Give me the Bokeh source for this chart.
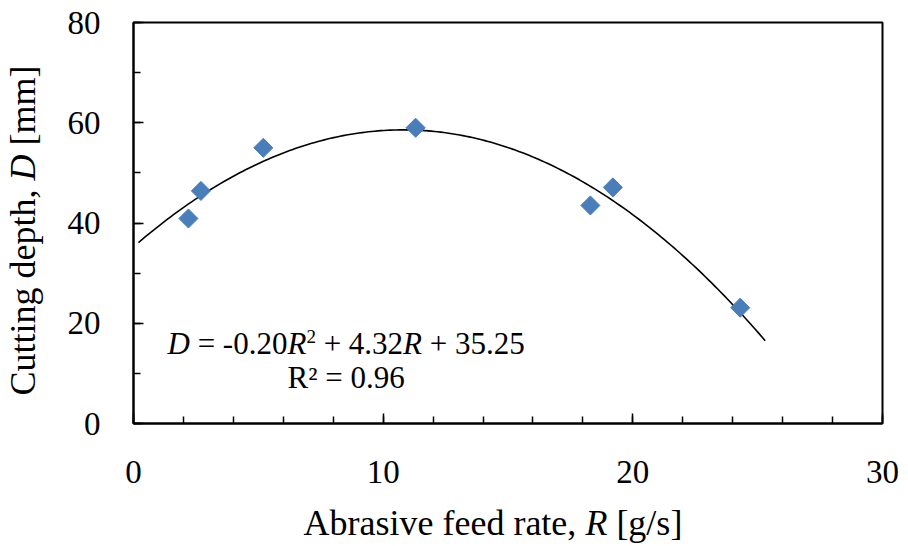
import numpy as np
from bokeh.plotting import figure
from bokeh.layouts import row, column
from bokeh.models import Label, Range1d, SingleIntervalTicker, ColumnDataSource
from bokeh.embed import file_html
from bokeh.resources import INLINE

# ---- data ----
feed_rate = [2.2, 2.7, 5.2, 11.3, 18.3, 19.2, 24.3]       # R [g/s]
cut_depth = [40.9, 46.4, 55.0, 59.0, 43.5, 47.1, 23.1]    # D [mm]
# displayed quadratic trend: D = a R^2 + b R + c
trend_coef = [-0.20, 4.32, 35.25]
trend_range = [0.2, 25.3]
x_ticks_labels = ["0", "10", "20", "30"]
y_ticks_labels = ["0", "20", "40", "60", "80"]
r_squared = "0.96"
x_title = [("Abrasive feed rate,", "normal"), ("R", "italic"), ("[g/s]", "normal")]
y_title = [("Cutting depth,", "normal"), ("D", "italic"), ("[mm]", "normal")]

FONT = "Liberation Serif"
TOTAL_W, TOTAL_H = 908, 546
LEFT_W, BOTTOM_H = 50, 46
B_LEFT, B_RIGHT, B_TOP, B_BOTTOM = 83, 26, 22, 77
BASE_FIX = 0.35   # em shift compensating where Label draws the alphabetic baseline

# ---- main plot ----
p = figure(width=TOTAL_W - LEFT_W, height=TOTAL_H - BOTTOM_H,
           output_backend="svg", toolbar_location=None,
           x_range=Range1d(0, 30), y_range=Range1d(0, 80),
           min_border_left=B_LEFT, min_border_right=B_RIGHT,
           min_border_top=B_TOP, min_border_bottom=B_BOTTOM)
p.background_fill_color = "white"
p.border_fill_color = "white"
p.xgrid.visible = False
p.ygrid.visible = False
p.outline_line_color = "black"
p.outline_line_width = 2

p.xaxis.ticker = SingleIntervalTicker(interval=10, num_minor_ticks=5)
p.yaxis.ticker = SingleIntervalTicker(interval=20, num_minor_ticks=2)

for ax in (p.xaxis, p.yaxis):
    ax.axis_line_width = 2
    ax.axis_line_color = "black"
    ax.major_tick_in = 10
    ax.major_tick_out = 0
    ax.minor_tick_in = 7
    ax.minor_tick_out = 0
    ax.major_tick_line_width = 1.5
    ax.minor_tick_line_width = 1.5
    ax.major_tick_line_color = "black"
    ax.minor_tick_line_color = "black"
    ax.major_label_text_font = FONT
    ax.major_label_text_font_size = "33px"
    ax.major_label_text_color = "black"

p.xaxis.major_label_standoff = 37
p.yaxis.major_label_standoff = 33

# trend line
xs = np.linspace(trend_range[0], trend_range[1], 200)
ys = np.polyval(trend_coef, xs)
p.line(xs, ys, line_color="black", line_width=1.6)

# data points
src = ColumnDataSource(dict(x=feed_rate, y=cut_depth))
p.scatter("x", "y", source=src, marker="square", size=13.5, angle=np.pi / 4,
          fill_color="#4A7EBB", line_color="#4A7EBB")

# Times-compatible advance widths (em) for laying out mixed-style text pieces
W = {"D": 0.722, "R": 0.611, " ": 0.25, "=": 0.564, "+": 0.564, "-": 0.333,
     "0": 0.5, "1": 0.5, "2": 0.5, "3": 0.5, "4": 0.5, "5": 0.5, ".": 0.25,
     ",": 0.25, "A": 0.722, "C": 0.667, "a": 0.444, "b": 0.5, "d": 0.5,
     "e": 0.444, "f": 0.333, "g": 0.5, "h": 0.5, "i": 0.278, "m": 0.778,
     "n": 0.5, "p": 0.5, "r": 0.333, "s": 0.389, "t": 0.278, "u": 0.5,
     "v": 0.5, "/": 0.278, "[": 0.333, "]": 0.333}

def w(s, size):
    return sum(W[ch] for ch in s) * size

def label(fig, text, style, size, ox, oy, angle=0.0):
    fig.add_layout(Label(x=0, y=0, x_offset=ox, y_offset=oy,
                         text=text, angle=angle, text_font=FONT,
                         text_font_size=f"{size}px", text_font_style=style,
                         text_color="black", text_baseline="alphabetic",
                         text_align="left"))

# equation of the trend line (pixel offsets from the plot origin)
eq_size, sup_size = 31, 19
a, b, c = trend_coef
pieces = [
    ("D", "italic", eq_size, 0), (" ", None, eq_size, 0),
    ("=", "normal", eq_size, 0), (" ", None, eq_size, 0),
    (f"{a:.2f}", "normal", eq_size, 0), ("R", "italic", eq_size, 0),
    ("2", "normal", sup_size, 7), (" ", None, eq_size, 0),
    ("+", "normal", eq_size, 0), (" ", None, eq_size, 0),
    (f"{b:.2f}", "normal", eq_size, 0), ("R", "italic", eq_size, 0),
    (" ", None, eq_size, 0), ("+", "normal", eq_size, 0),
    (" ", None, eq_size, 0), (f"{c:.2f}", "normal", eq_size, 0),
]
eq_left = 34
eq_base = 69 + BASE_FIX * eq_size
off = 0.0
for text, style, size, rise in pieces:
    if style is not None:
        label(p, text, style, size, eq_left + off, eq_base + rise)
    off += w(text, size)
p.add_layout(Label(x=0, y=0, x_offset=eq_left + off / 2,
                   y_offset=35 + BASE_FIX * eq_size,
                   text=f"R\u00b2 = {r_squared}", text_font=FONT,
                   text_font_size=f"{eq_size}px", text_color="black",
                   text_baseline="alphabetic", text_align="center"))

# ---- title strips (pixel-coordinate figures holding the axis titles) ----
def strip(wd, ht, bl, br, bt, bb):
    f = figure(width=wd, height=ht, output_backend="svg", toolbar_location=None,
               x_range=Range1d(0, wd - bl - br), y_range=Range1d(0, ht - bt - bb),
               x_axis_type=None, y_axis_type=None,
               min_border_left=bl, min_border_right=br,
               min_border_top=bt, min_border_bottom=bb)
    f.xgrid.visible = False
    f.ygrid.visible = False
    f.outline_line_color = None
    f.background_fill_color = "white"
    f.border_fill_color = "white"
    return f

t_size = 36
# left strip: frame aligned with the main frame (bottom of frame = y axis 0)
yfig = strip(LEFT_W, TOTAL_H - BOTTOM_H, 0, 0, B_TOP, B_BOTTOM)
off = 0.0
for text, style in y_title:
    label(yfig, text, style, t_size, 35 - BASE_FIX * t_size, 28 + off, angle=np.pi / 2)
    off += w(text + " ", t_size)

# bottom strip: frame spans the same columns as the main frame
xfig = strip(TOTAL_W, BOTTOM_H, LEFT_W + B_LEFT, B_RIGHT, 0, 0)
off = 0.0
for text, style in x_title:
    label(xfig, text, style, t_size, 170 + off, 11 + BASE_FIX * t_size)
    off += w(text + " ", t_size)

layout = column(row(yfig, p), xfig)
open("out.html", "w").write(file_html(layout, INLINE))
